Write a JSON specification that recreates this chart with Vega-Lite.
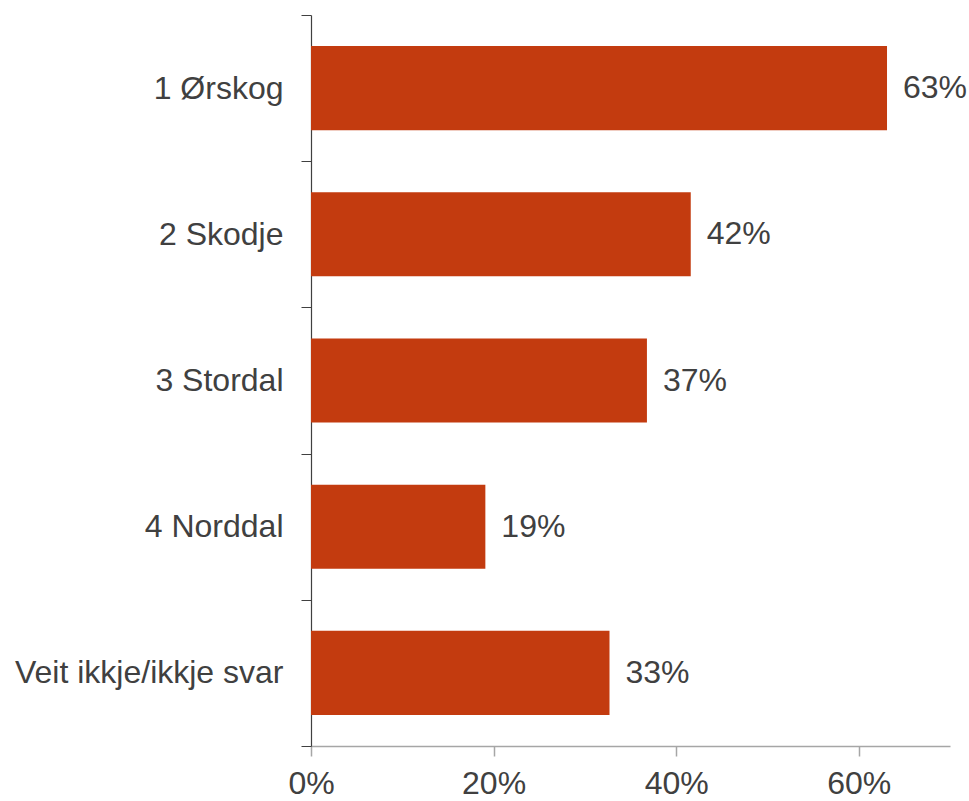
{
  "$schema": "https://vega.github.io/schema/vega-lite/v6.json",
  "width": 639,
  "height": 731,
  "autosize": {"type": "none"},
  "padding": {"left": 311, "top": 15, "right": 19, "bottom": 55},
  "background": "white",
  "config": {"view": {"stroke": null}, "font": "Liberation Sans"},
  "data": {
    "values": [
      {"kategori": "1 Ørskog", "andel": 0.631},
      {"kategori": "2 Skodje", "andel": 0.416},
      {"kategori": "3 Stordal", "andel": 0.368},
      {"kategori": "4 Norddal", "andel": 0.191},
      {"kategori": "Veit ikkje/ikkje svar", "andel": 0.327}
    ]
  },
  "encoding": {
    "y": {
      "field": "kategori",
      "type": "nominal",
      "sort": null,
      "title": null,
      "scale": {"paddingInner": 0, "paddingOuter": 0},
      "axis": {
        "domainColor": "#404040",
        "domainWidth": 1.2,
        "tickColor": "#404040",
        "tickSize": 10,
        "tickBand": "extent",
        "labelFont": "Liberation Sans",
        "labelFontSize": 32,
        "labelColor": "#404040",
        "labelPadding": 18,
        "labelLimit": 400
      }
    },
    "x": {
      "field": "andel",
      "type": "quantitative",
      "title": null,
      "scale": {"domain": [0, 0.7], "nice": false},
      "axis": {
        "values": [0, 0.2, 0.4, 0.6],
        "format": ".0%",
        "grid": false,
        "domainColor": "#a6a6a6",
        "domainWidth": 1.5,
        "tickColor": "#a6a6a6",
        "tickWidth": 1.5,
        "tickSize": 10,
        "labelFont": "Liberation Sans",
        "labelFontSize": 32,
        "labelColor": "#404040",
        "labelPadding": 12,
        "labelFlush": false
      }
    }
  },
  "layer": [
    {"mark": {"type": "bar", "color": "#C33B0F", "height": {"band": 0.575}}},
    {
      "mark": {"type": "text", "align": "left", "baseline": "middle", "dx": 16, "font": "Liberation Sans", "fontSize": 32, "color": "#404040"},
      "encoding": {"text": {"field": "andel", "type": "quantitative", "format": ".0%"}}
    }
  ]
}
